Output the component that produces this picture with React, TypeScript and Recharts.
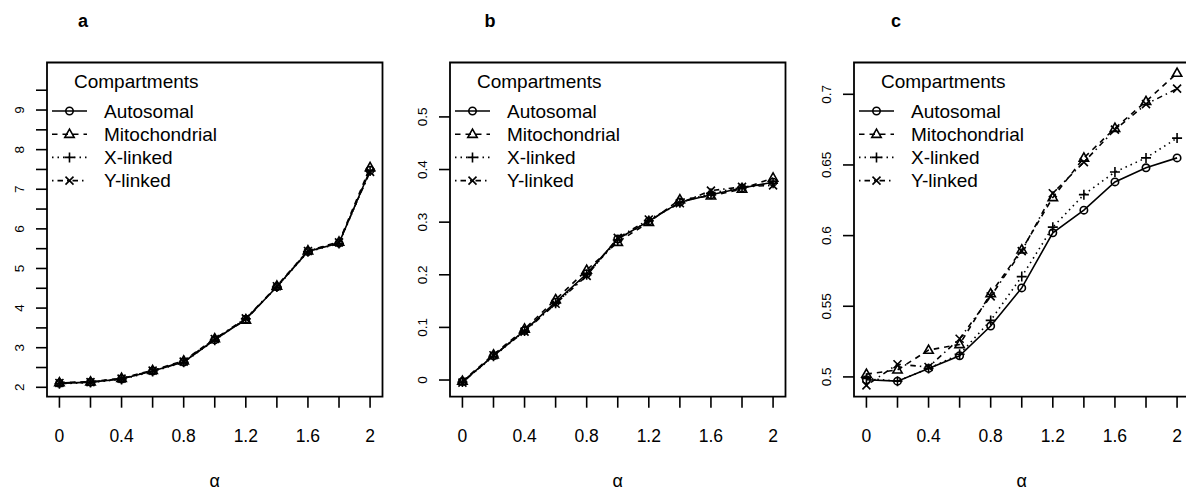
import React from 'react'
import { LineChart, Line, XAxis, YAxis, ReferenceArea, Legend, Label } from 'recharts'

const FONT = '"Liberation Sans", Arial, Helvetica, sans-serif'

const ALPHA = [0, 0.2, 0.4, 0.6, 0.8, 1.0, 1.2, 1.4, 1.6, 1.8, 2.0]
const X_TICK_LABELS = ['0', '', '0.4', '', '0.8', '', '1.2', '', '1.6', '', '2']

const SERIES_NAMES = ['Autosomal', 'Mitochondrial', 'X-linked', 'Y-linked']

// panel a
const A_AUTO = [2.10, 2.13, 2.21, 2.41, 2.64, 3.20, 3.72, 4.54, 5.43, 5.64, 7.48]
const A_MITO = [2.12, 2.14, 2.23, 2.43, 2.67, 3.23, 3.70, 4.56, 5.45, 5.67, 7.55]
const A_XLNK = [2.09, 2.12, 2.20, 2.40, 2.63, 3.19, 3.73, 4.53, 5.42, 5.63, 7.46]
const A_YLNK = [2.11, 2.13, 2.22, 2.42, 2.65, 3.22, 3.74, 4.55, 5.44, 5.66, 7.44]
const A_Y_TICKS = [2, 2.5, 3, 3.5, 4, 4.5, 5, 5.5, 6, 6.5, 7, 7.5, 8, 8.5, 9, 9.5]
const A_Y_LABELS = ['2', '', '3', '', '4', '', '5', '', '6', '', '7', '', '8', '', '9', '']

// panel b
const B_AUTO = [-0.003, 0.046, 0.094, 0.148, 0.202, 0.268, 0.302, 0.338, 0.352, 0.365, 0.376]
const B_MITO = [-0.002, 0.048, 0.097, 0.153, 0.209, 0.262, 0.300, 0.343, 0.350, 0.363, 0.384]
const B_XLNK = [-0.004, 0.045, 0.093, 0.146, 0.200, 0.266, 0.303, 0.337, 0.355, 0.366, 0.374]
const B_YLNK = [-0.005, 0.047, 0.092, 0.145, 0.198, 0.270, 0.305, 0.336, 0.360, 0.367, 0.370]
const B_Y_TICKS = [0, 0.1, 0.2, 0.3, 0.4, 0.5]
const B_Y_LABELS = ['0', '0.1', '0.2', '0.3', '0.4', '0.5']

// panel c
const C_AUTO = [0.498, 0.497, 0.506, 0.515, 0.536, 0.563, 0.602, 0.618, 0.638, 0.648, 0.655]
const C_MITO = [0.502, 0.505, 0.519, 0.523, 0.559, 0.590, 0.627, 0.655, 0.676, 0.695, 0.715]
const C_XLNK = [0.499, 0.497, 0.506, 0.516, 0.540, 0.571, 0.606, 0.629, 0.645, 0.655, 0.669]
const C_YLNK = [0.494, 0.509, 0.507, 0.527, 0.557, 0.589, 0.630, 0.652, 0.675, 0.693, 0.704]
const C_Y_TICKS = [0.5, 0.55, 0.6, 0.65, 0.7]
const C_Y_LABELS = ['0.5', '0.55', '0.6', '0.65', '0.7']

const KEYS = ['auto', 'mito', 'xlnk', 'ylnk']
const DASHES = [undefined, '5.5 5', '1.5 4', '1.5 4 5.5 4']
const SHAPES = ['circle', 'triangle', 'plus', 'cross']

const X_DOMAIN: [number, number] = [-0.08, 2.08]

const PANELS = [
  { letter: 'a', left: 0, letterX: 83, domain: [1.763, 10.2], ticks: A_Y_TICKS, labels: A_Y_LABELS, series: [A_AUTO, A_MITO, A_XLNK, A_YLNK] },
  { letter: 'b', left: 403, letterX: 490, domain: [-0.0317, 0.6034], ticks: B_Y_TICKS, labels: B_Y_LABELS, series: [B_AUTO, B_MITO, B_XLNK, B_YLNK] },
  { letter: 'c', left: 807.3, letterX: 896, domain: [0.486, 0.7225], ticks: C_Y_TICKS, labels: C_Y_LABELS, series: [C_AUTO, C_MITO, C_XLNK, C_YLNK] },
]

const SW = 1.6

function marker(shape: string, cx: number, cy: number, key?: string) {
  if (shape === 'circle')
    return <circle key={key} cx={cx} cy={cy} r={3.7} fill="none" stroke="#000" strokeWidth={SW} />
  if (shape === 'triangle')
    return <path key={key} d={`M${cx},${cy - 5} L${cx + 4.7},${cy + 3.2} L${cx - 4.7},${cy + 3.2} Z`} fill="none" stroke="#000" strokeWidth={SW} />
  if (shape === 'plus')
    return <path key={key} d={`M${cx - 5},${cy} H${cx + 5} M${cx},${cy - 5} V${cy + 5}`} fill="none" stroke="#000" strokeWidth={SW} />
  return <path key={key} d={`M${cx - 4},${cy - 4} L${cx + 4},${cy + 4} M${cx + 4},${cy - 4} L${cx - 4},${cy + 4}`} fill="none" stroke="#000" strokeWidth={SW} />
}

function near(a: number, b: number) {
  return Math.abs(a - b) < 1e-9
}

function XTick(props: any) {
  const { x, y, payload } = props
  const i = ALPHA.findIndex((v) => near(v, payload.value))
  return (
    <text x={x} y={y + 34} textAnchor="middle" fontSize={17.5} fontFamily={FONT} fill="#000">
      {X_TICK_LABELS[i]}
    </text>
  )
}

function makeYTick(ticks: number[], labels: string[]) {
  return (props: any) => {
    const { x, y, payload } = props
    const i = ticks.findIndex((v) => near(v, payload.value))
    const bx = x - 11.7
    return (
      <text x={bx} y={y} transform={`rotate(-90 ${bx} ${y})`} textAnchor="middle" fontSize={13.5} fontFamily={FONT} fill="#000">
        {labels[i]}
      </text>
    )
  }
}

function LegendBox(props: any) {
  const names: string[] = props.payload?.length ? props.payload.map((p: any) => p.value) : SERIES_NAMES
  return (
    <svg width={210} height={130} style={{ display: 'block' }}>
      <text x={27} y={24.5} fontSize={19} fontFamily={FONT} fill="#000">Compartments</text>
      {names.map((name, i) => {
        const k = SERIES_NAMES.indexOf(name)
        const cy = 48 + 23.2 * i
        return (
          <g key={name}>
            <line x1={5} x2={40} y1={cy} y2={cy} stroke="#000" strokeWidth={SW} strokeDasharray={DASHES[k]} />
            {marker(SHAPES[k], 22.5, cy)}
            <text x={57} y={cy + 6.8} fontSize={19} fontFamily={FONT} fill="#000">{name}</text>
          </g>
        )
      })}
    </svg>
  )
}

function Panel({ panel }: { panel: (typeof PANELS)[number] }) {
  const rows = ALPHA.map((a, i) => {
    const row: Record<string, number> = { alpha: a }
    KEYS.forEach((k, j) => (row[k] = panel.series[j][i]))
    return row
  })
  return (
    <div style={{ position: 'absolute', left: panel.left, top: 0 }}>
      <LineChart width={400} height={492} data={rows} margin={{ top: 62.5, right: 17.5, bottom: 0, left: 0 }}>
        <XAxis
          dataKey="alpha"
          type="number"
          domain={X_DOMAIN}
          ticks={ALPHA}
          interval={0}
          allowDataOverflow
          axisLine={false}
          tickSize={11}
          tickMargin={0}
          tickLine={{ stroke: '#000', strokeWidth: SW }}
          tick={<XTick />}
          height={95.3}
        >
          <Label value="α" position="insideBottom" offset={5} fontSize={18} fontFamily={FONT} fill="#000" />
        </XAxis>
        <YAxis
          type="number"
          domain={panel.domain}
          ticks={panel.ticks}
          interval={0}
          allowDataOverflow
          axisLine={false}
          tickSize={11}
          tickMargin={0}
          tickLine={{ stroke: '#000', strokeWidth: SW }}
          tick={makeYTick(panel.ticks, panel.labels)}
          width={47}
        />
        <ReferenceArea
          x1={X_DOMAIN[0]}
          x2={X_DOMAIN[1]}
          y1={panel.domain[0]}
          y2={panel.domain[1]}
          fill="none"
          fillOpacity={0}
          stroke="#000"
          strokeWidth={1.8}
          ifOverflow="visible"
        />
        {KEYS.map((k, j) => (
          <Line
            key={k}
            dataKey={k}
            name={SERIES_NAMES[j]}
            type="linear"
            stroke="#000"
            strokeWidth={SW}
            strokeDasharray={DASHES[j]}
            isAnimationActive={false}
            dot={(p: any) => marker(SHAPES[j], p.cx, p.cy, `${k}-${p.index}`)}
            activeDot={false}
          />
        ))}
        <Legend
          layout="vertical"
          align="center"
          verticalAlign="middle"
          content={<LegendBox />}
          wrapperStyle={{ left: 47, top: 62.5, width: 210, height: 130 }}
        />
      </LineChart>
      <div
        style={{
          position: 'absolute',
          left: panel.letterX - panel.left - 10,
          top: 9,
          width: 20,
          textAlign: 'center',
          fontFamily: FONT,
          fontWeight: 'bold',
          fontSize: 18,
          lineHeight: '24px',
        }}
      >
        {panel.letter}
      </div>
    </div>
  )
}

export default function App() {
  return (
    <div style={{ position: 'absolute', left: 0, top: 0, width: 1186, height: 492, overflow: 'hidden', background: '#fff' }}>
      {PANELS.map((p) => (
        <Panel key={p.letter} panel={p} />
      ))}
    </div>
  )
}
